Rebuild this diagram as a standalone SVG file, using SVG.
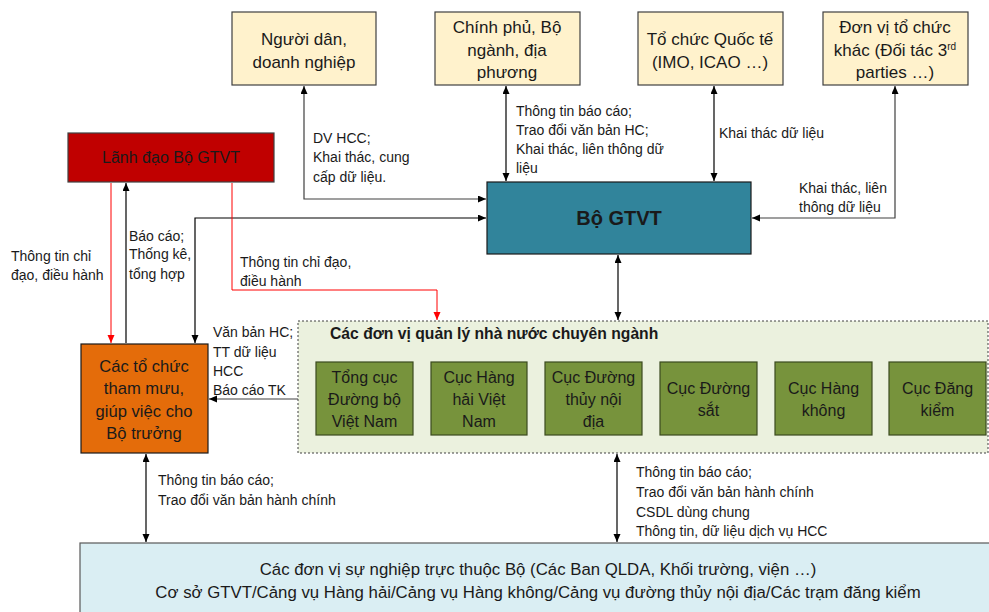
<svg xmlns="http://www.w3.org/2000/svg" width="989" height="612" viewBox="0 0 989 612">
<defs>
<marker id="ah" markerWidth="9" markerHeight="8" refX="8" refY="3.5" orient="auto-start-reverse" markerUnits="userSpaceOnUse"><path d="M0,0 L8,3.5 L0,7 z" fill="#000"/></marker>
<marker id="ahr" markerWidth="9" markerHeight="8" refX="8" refY="3.5" orient="auto-start-reverse" markerUnits="userSpaceOnUse"><path d="M0,0 L8,3.5 L0,7 z" fill="#FF0000"/></marker>
</defs>
<style>
text{font-family:"Liberation Sans",Arial,sans-serif;fill:#1a1a1a}
.ext{fill:#FFF2CC;stroke:#404040;stroke-width:1.2}
.bt{font-size:17px;text-anchor:middle}
.gt{font-size:16px;text-anchor:middle}
.lb{font-size:14px}
.gb{fill:#77933C;stroke:#3b4a1e;stroke-width:1.2}
.c{fill:none;stroke:#000;stroke-width:1.2}
.cg{fill:none;stroke:#404040;stroke-width:1.2}
.r{fill:none;stroke:#FF0000;stroke-width:1}
</style>
<g id="nguoidan"><rect class="ext" x="232" y="12" width="144" height="73"/><text class="bt" x="304" y="45">Người dân,</text><text class="bt" x="304" y="68">doanh nghiệp</text></g>
<g id="chinhphu"><rect class="ext" x="435" y="12" width="145" height="73"/><text class="bt" x="507" y="33">Chính phủ, Bộ</text><text class="bt" x="507" y="56">ngành, địa</text><text class="bt" x="507" y="78">phương</text></g>
<g id="quocte"><rect class="ext" x="638" y="12" width="145" height="73"/><text class="bt" x="710" y="45">Tổ chức Quốc tế</text><text class="bt" x="710" y="68">(IMO, ICAO …)</text></g>
<g id="donvikhac"><rect class="ext" x="823" y="12" width="145" height="73"/><text class="bt" x="895" y="33">Đơn vị tổ chức</text><text class="bt" x="895" y="56">khác (Đối tác 3<tspan font-size="10" dy="-6">rd</tspan></text><text class="bt" x="895" y="78">parties …)</text></g>
<g id="lanhdao"><rect x="68" y="133" width="206" height="49" fill="#C00000" stroke="#404040" stroke-width="1.2"/><text x="171" y="163" font-size="16" text-anchor="middle">Lãnh đạo Bộ GTVT</text></g>
<g id="bogtvt"><rect x="487" y="182" width="264" height="72" fill="#31849B" stroke="#1a1a1a" stroke-width="1.2"/><text x="619" y="225" font-size="20" font-weight="bold" text-anchor="middle">Bộ GTVT</text></g>
<g id="container"><rect x="298" y="321" width="690" height="132" fill="#EBF1DE" stroke="#404040" stroke-width="1" stroke-dasharray="2,2"/><text x="330" y="339" font-size="15.7" font-weight="bold">Các đơn vị quản lý nhà nước chuyên ngành</text></g>
<g id="tochuc"><rect x="81" y="344" width="127" height="109" fill="#E46C0A" stroke="#1a1a1a" stroke-width="1.2"/><text x="144" y="372" font-size="16.6" text-anchor="middle">Các tổ chức</text><text x="144" y="394" font-size="16.6" text-anchor="middle">tham mưu,</text><text x="144" y="417" font-size="16.6" text-anchor="middle">giúp việc cho</text><text x="144" y="439" font-size="16.6" text-anchor="middle">Bộ trưởng</text></g>
<g id="tongcucdb"><rect class="gb" x="316" y="362" width="97" height="73"/><text class="gt" x="364.5" y="383">Tổng cục</text><text class="gt" x="364.5" y="405">Đường bộ</text><text class="gt" x="364.5" y="427">Việt Nam</text></g>
<g id="cuchanghai"><rect class="gb" x="431" y="362" width="96" height="73"/><text class="gt" x="479" y="383">Cục Hàng</text><text class="gt" x="479" y="405">hải Việt</text><text class="gt" x="479" y="427">Nam</text></g>
<g id="cucdtnd"><rect class="gb" x="545" y="362" width="97" height="73"/><text class="gt" x="593.5" y="383">Cục Đường</text><text class="gt" x="593.5" y="405">thủy nội</text><text class="gt" x="593.5" y="427">địa</text></g>
<g id="cucdsat"><rect class="gb" x="660" y="362" width="97" height="73"/><text class="gt" x="708.5" y="394">Cục Đường</text><text class="gt" x="708.5" y="416">sắt</text></g>
<g id="cuchk"><rect class="gb" x="775" y="362" width="97" height="73"/><text class="gt" x="823.5" y="394">Cục Hàng</text><text class="gt" x="823.5" y="416">không</text></g>
<g id="cucdk"><rect class="gb" x="889" y="362" width="97" height="73"/><text class="gt" x="937.5" y="394">Cục Đăng</text><text class="gt" x="937.5" y="416">kiểm</text></g>
<g id="sunghiep"><rect x="80" y="543" width="920" height="80" fill="#DAEEF3" stroke="#595959" stroke-width="1.2"/><text x="538" y="575" font-size="16.8" text-anchor="middle">Các đơn vị sự nghiệp trực thuộc Bộ (Các Ban QLDA, Khối trường, viện …)</text><text x="538" y="598" font-size="16.8" text-anchor="middle">Cơ sở GTVT/Cảng vụ Hàng hải/Cảng vụ Hàng không/Cảng vụ đường thủy nội địa/Các trạm đăng kiểm</text></g>
<g id="connectors">
<path class="cg" d="M304,86 V199 H486" marker-start="url(#ah)" marker-end="url(#ah)"/>
<path class="c" d="M506,86 V181" marker-start="url(#ah)" marker-end="url(#ah)"/>
<path class="c" d="M714,86 V181" marker-start="url(#ah)" marker-end="url(#ah)"/>
<path class="cg" d="M895,86 V218 H752" marker-start="url(#ah)" marker-end="url(#ah)"/>
<path class="c" d="M618,255 V320" marker-start="url(#ah)" marker-end="url(#ah)"/>
<path class="c" d="M486,218 H195 V343" marker-start="url(#ah)" marker-end="url(#ah)"/>
<path class="r" d="M111,183 V343" marker-end="url(#ahr)"/>
<path class="c" d="M126,343 V183" marker-end="url(#ah)"/>
<path class="r" d="M232,183 V290 H437 V320" marker-end="url(#ahr)"/>
<path class="cg" d="M298,399 H209" marker-end="url(#ah)"/>
<path class="c" d="M146,454 V542" marker-start="url(#ah)" marker-end="url(#ah)"/>
<path class="c" d="M617,454 V542" marker-start="url(#ah)" marker-end="url(#ah)"/>
</g>
<g id="labels">
<text class="lb" x="313" y="143">DV HCC;</text><text class="lb" x="313" y="162">Khai thác, cung</text><text class="lb" x="313" y="182">cấp dữ liệu.</text>
<text class="lb" x="516" y="116">Thông tin báo cáo;</text><text class="lb" x="516" y="135">Trao đổi văn bản HC;</text><text class="lb" x="516" y="154">Khai thác, liên thông dữ</text><text class="lb" x="516" y="173">liệu</text>
<text class="lb" x="719" y="138">Khai thác dữ liệu</text>
<text class="lb" x="799" y="193">Khai thác, liên</text><text class="lb" x="799" y="212">thông dữ liệu</text>
<text class="lb" x="11" y="261">Thông tin chỉ</text><text class="lb" x="11" y="280">đạo, điều hành</text>
<text class="lb" x="129" y="241">Báo cáo;</text><text class="lb" x="129" y="259">Thống kê,</text><text class="lb" x="129" y="279">tổng hợp</text>
<text class="lb" x="240" y="267">Thông tin chỉ đạo,</text><text class="lb" x="240" y="286">điều hành</text>
<text class="lb" x="213" y="337">Văn bản HC;</text><text class="lb" x="213" y="357">TT dữ liệu</text><text class="lb" x="213" y="376">HCC</text><text class="lb" x="213" y="395">Báo cáo TK</text>
<text class="lb" x="158" y="485">Thông tin báo cáo;</text><text class="lb" x="158" y="505">Trao đổi văn bản hành chính</text>
<text class="lb" x="636" y="477">Thông tin báo cáo;</text><text class="lb" x="636" y="497">Trao đổi văn bản hành chính</text><text class="lb" x="636" y="517">CSDL dùng chung</text><text class="lb" x="636" y="536">Thông tin, dữ liệu dịch vụ HCC</text>
</g>
</svg>
